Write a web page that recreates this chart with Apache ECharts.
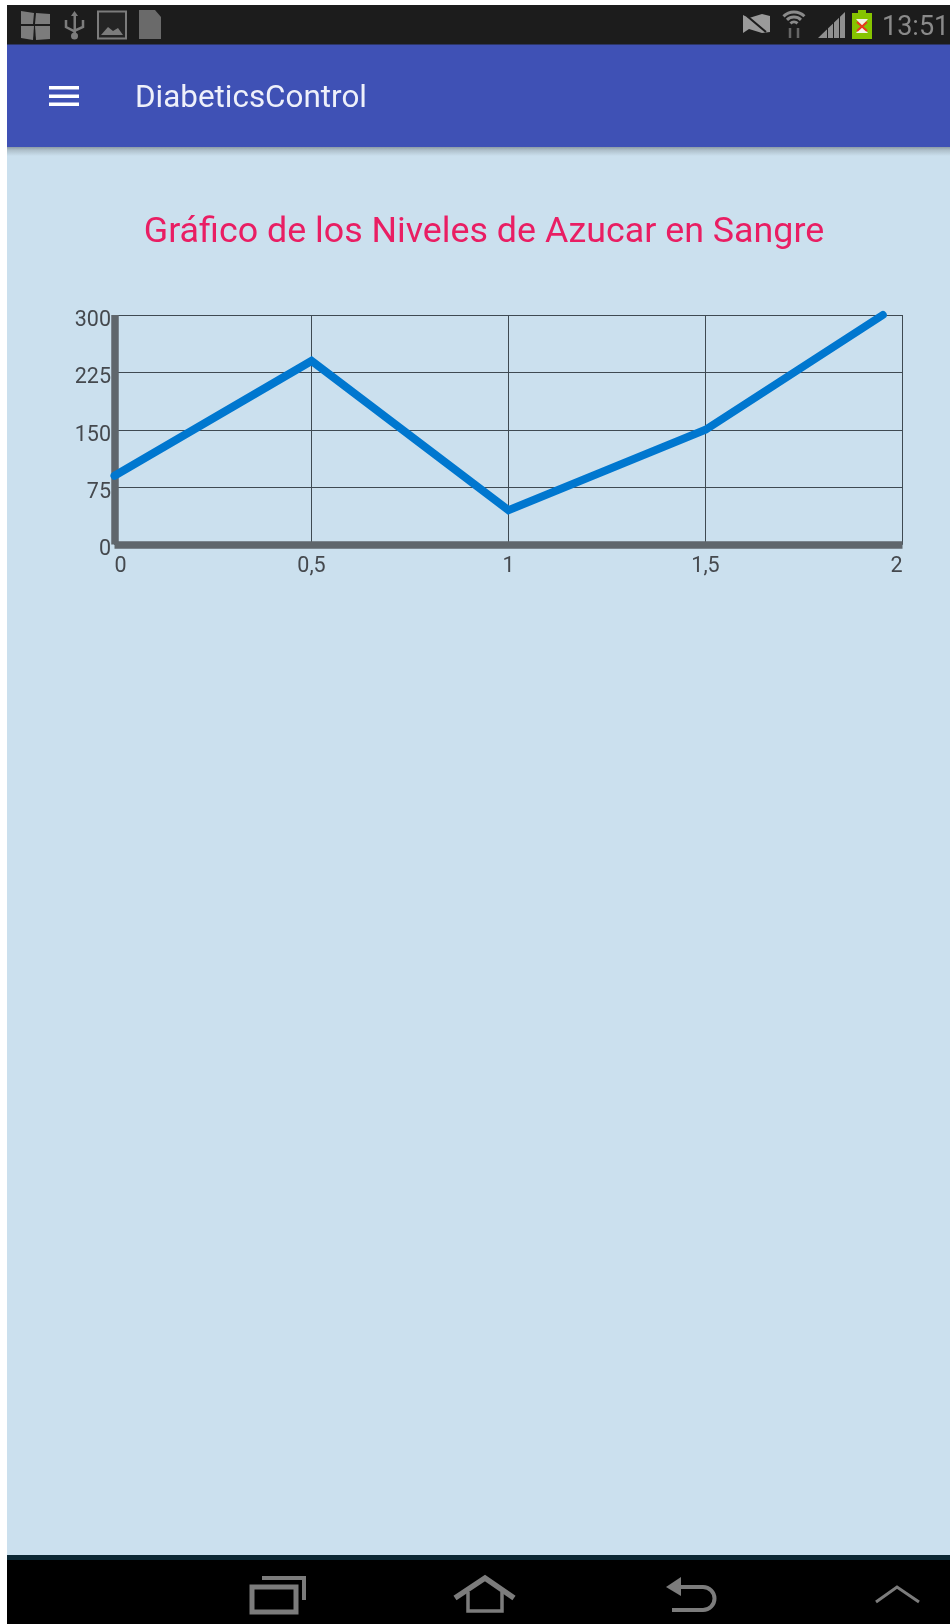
<!DOCTYPE html>
<html lang="es">
<head>
<meta charset="utf-8">
<title>DiabeticsControl</title>
<script src="https://cdn.jsdelivr.net/npm/echarts@6/dist/echarts.min.js"></script>
<style>
  html, body { margin: 0; padding: 0; background: #fff; }
  #chart { width: 950px; height: 1624px; }
</style>
</head>
<body>
<div id="chart"></div>
<script>
// Blood sugar readings
const readingX = [0, 0.5, 1, 1.5, 1.95];
const sugarLevel = [90, 240, 45, 150, 300];

// Axis tick labels
const xTickLabels = ['0', '0,5', '1', '1,5', '2'];
const yTickLabels = ['0', '75', '150', '225', '300'];

const screenTitle = 'Gráfico de los Niveles de Azucar en Sangre';
const appName = 'DiabeticsControl';
const clockText = '13:51';

const GREY = '#7c7c7c';
const rect = (x, y, width, height, fill, z = 1) => ({ type: 'rect', z, silent: true, shape: { x, y, width, height }, style: { fill } });
const poly = (points, fill) => ({ type: 'polygon', z: 2, silent: true, shape: { points }, style: { fill } });
const stroke = (points, color, lineWidth) => ({ type: 'polyline', z: 2, silent: true, shape: { points }, style: { stroke: color, lineWidth, fill: null, lineJoin: 'miter' } });
const text = (x, y, str, font, fill, align = 'left') => ({ type: 'text', z: 3, silent: true, x, y, style: { text: str, font, fill, align, verticalAlign: 'middle' } });
const arc = (cx, cy, r, startAngle, endAngle, color, lineWidth) => ({ type: 'arc', z: 2, silent: true, shape: { cx, cy, r, startAngle, endAngle }, style: { stroke: color, lineWidth, fill: null } });

// Device frame: status bar, app bar, content area and navigation bar
const frame = [
  rect(7, 5, 943, 1619, '#cbe0ee', -10),
  rect(7, 44, 943, 103, '#3f51b5', -9),
  rect(7, 5, 943, 39.5, '#1c1c1c', -8),
  {
    type: 'rect', z: -9, silent: true, shape: { x: 7, y: 147, width: 943, height: 9 },
    style: { fill: new echarts.graphic.LinearGradient(0, 0, 0, 1, [
      { offset: 0, color: '#8c9ba6' }, { offset: 0.35, color: '#aebfca' }, { offset: 1, color: '#cbe0ee' }
    ]) }
  },
  rect(7, 1556, 943, 68, '#000000', -9),
  rect(7, 1555, 943, 5, '#0c2733', -8),

  // Menu icon
  rect(49, 86, 30, 3.5, '#ffffff'), rect(49, 94.5, 30, 3.5, '#ffffff'), rect(49, 102.5, 30, 3.5, '#ffffff'),

  // Left status icons
  poly([[21, 11], [34, 13], [33, 24], [21, 24]], GREY), poly([[36, 13], [50, 14], [50, 24], [35, 24]], GREY),
  poly([[21, 26], [34, 26], [33, 40], [21, 38]], GREY), poly([[35, 26], [50, 26], [50, 39], [36, 40]], GREY),
  rect(73.5, 14, 2.5, 22, GREY), { type: 'circle', z: 2, silent: true, shape: { cx: 74.5, cy: 36, r: 3.5 }, style: { fill: GREY } },
  stroke([[66, 20], [66, 27], [74, 31], [83, 27], [83, 20]], GREY, 2.5),
  poly([[71, 16], [74.5, 11], [78, 16]], GREY),
  { type: 'rect', z: 2, silent: true, shape: { x: 98, y: 11.5, width: 28, height: 27 }, style: { fill: '#242424', stroke: GREY, lineWidth: 2 } },
  poly([[101, 35], [108, 27], [113, 31], [118, 28], [123, 35]], GREY),
  poly([[139, 10], [155, 10], [161, 17], [161, 39], [139, 39]], '#6a6a6a'),
  rect(144, 22, 13, 12, '#2c2c2c'), rect(147, 25, 7, 6, '#6a6a6a'),

  // Right status icons
  poly([[743, 15], [749, 18], [762, 14], [770, 16], [770, 32], [762, 33], [749, 29], [743, 33]], '#9a9a9a'),
  stroke([[747, 16], [766, 32]], '#1c1c1c', 2),
  arc(794, 27, 15, -2.35, -0.8, '#8a8a8a', 3),
  arc(794, 27, 10, -2.35, -0.8, '#8a8a8a', 3),
  arc(794, 27, 5, -2.35, -0.8, '#8a8a8a', 3),
  stroke([[790, 28], [790, 38]], '#666666', 2.5), stroke([[798, 28], [798, 38]], '#666666', 2.5),
  poly([[818, 38], [845, 12], [845, 38]], '#8f8f8f'),
  rect(827, 28, 1, 10, '#1c1c1c', 3), rect(833, 22, 1, 16, '#1c1c1c', 3), rect(839, 16, 1, 22, '#1c1c1c', 3),
  rect(852, 13, 20, 26, '#86c400'), rect(858, 10, 8, 3, '#86c400'),
  poly([[856, 19], [868, 19], [862, 26]], '#f3f3e8'), poly([[856, 33], [868, 33], [862, 26]], '#f3f3e8'),
  stroke([[857, 22], [867, 31]], '#e8391f', 2), stroke([[867, 22], [857, 31]], '#e8391f', 2),
  text(882, 28, clockText, '27px Roboto', '#8a8a8a'),

  // Screen headings
  text(135, 99, appName, '31.4px Roboto', '#eef0fa'),
  text(484, 233, screenTitle, '35.8px Roboto', '#e91e63', 'center'),

  // Navigation buttons
  stroke([[262, 1578], [304, 1578], [304, 1600]], GREY, 4),
  { type: 'rect', z: 2, silent: true, shape: { x: 252, y: 1587, width: 44, height: 25 }, style: { fill: null, stroke: GREY, lineWidth: 5 } },
  stroke([[455, 1598], [485, 1578], [514, 1598]], GREY, 5.5),
  stroke([[468, 1592], [468, 1611], [502, 1611], [502, 1592]], GREY, 3.5),
  poly([[666, 1587], [681, 1577], [681, 1596]], GREY),
  stroke([[678, 1587], [703, 1587]], GREY, 4),
  arc(703, 1598.5, 11.5, -Math.PI / 2, Math.PI / 2, GREY, 4),
  stroke([[703, 1610], [672, 1610]], GREY, 4),
  stroke([[876, 1602], [897, 1587], [919, 1602]], GREY, 3)
];

const chart = echarts.init(document.getElementById('chart'), null, { renderer: 'canvas' });

const labelStyle = { color: '#45494e', fontFamily: 'Roboto', fontSize: 21.5, fontWeight: 400 };
const axisBar = { show: true, onZero: false, lineStyle: { color: '#5f666c', width: 7.5, cap: 'butt' } };
const gridStroke = { show: true, lineStyle: { color: '#3f4a52', width: 1 } };

chart.setOption({
  animation: false,
  backgroundColor: '#ffffff',
  grid: { left: 114.5, right: 47.5, top: 315, height: 229.6, containLabel: false },
  xAxis: {
    type: 'value', min: 0, max: 2, interval: 0.5,
    axisLine: axisBar, axisTick: { show: false }, splitLine: gridStroke,
    axisLabel: {
      ...labelStyle, margin: 11, alignMinLabel: 'left', alignMaxLabel: 'right',
      formatter: (v) => xTickLabels[Math.round(v / 0.5)]
    }
  },
  yAxis: {
    type: 'value', min: 0, max: 300, interval: 75,
    axisLine: axisBar, axisTick: { show: false }, splitLine: gridStroke,
    axisLabel: {
      ...labelStyle, margin: 3.5, verticalAlign: 'top', lineHeight: 11,
      formatter: (v) => yTickLabels[Math.round(v / 75)]
    }
  },
  series: [{
    type: 'line',
    data: readingX.map((x, i) => [x, sugarLevel[i]]),
    showSymbol: false,
    clip: false,
    z: 5,
    lineStyle: { color: '#0077cf', width: 8, cap: 'round', join: 'miter' }
  }],
  graphic: { elements: frame }
});
</script>
</body>
</html>
